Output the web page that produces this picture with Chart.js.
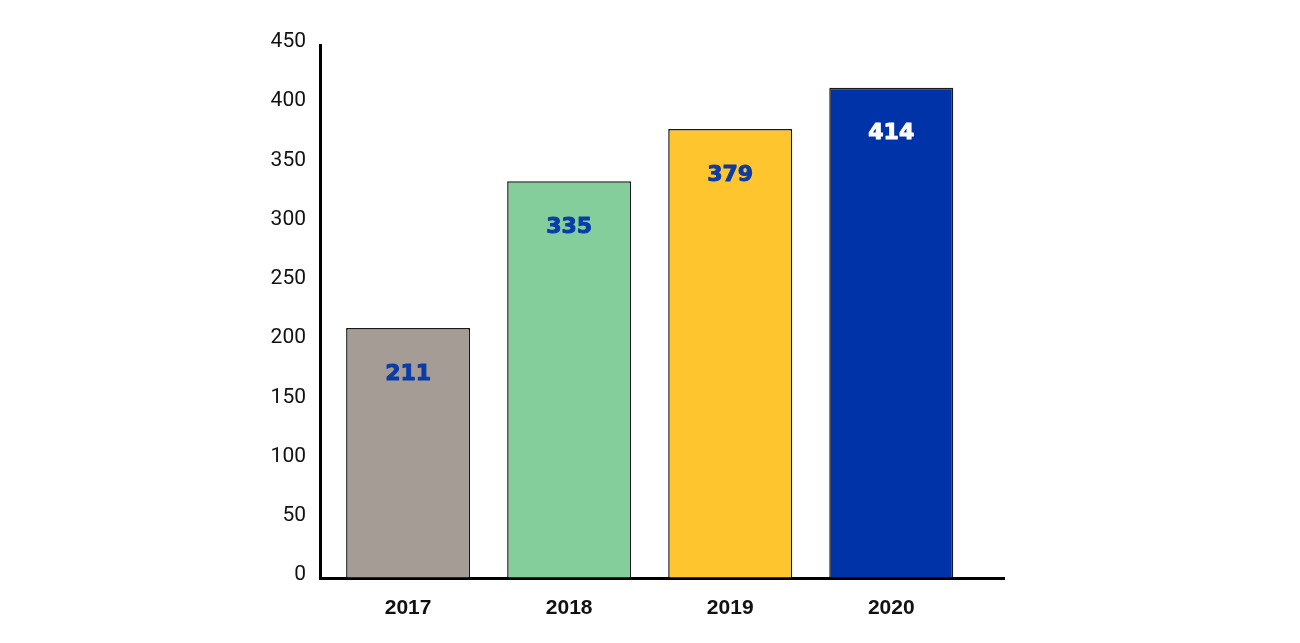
<!DOCTYPE html>
<html>
<head>
<meta charset="utf-8">
<script src="https://cdn.jsdelivr.net/npm/chart.js@4"></script>
<style>
html,body{margin:0;padding:0;background:#fff;}
#wrap{width:1300px;height:643px;position:relative;}
</style>
</head>
<body>
<div id="wrap"><canvas id="c" width="1300" height="643"></canvas></div>
<script>
const categories = ['2017', '2018', '2019', '2020'];
const values = [211, 335, 379, 414];
const barColors = ['#a59c96', '#84ce9c', '#fec52e', '#0033a8'];
const labelColors = ['#0a3ca8', '#0a3ca8', '#0a3ca8', '#ffffff'];
const yTicks = [0, 50, 100, 150, 200, 250, 300, 350, 400, 450];

const valueLabels = {
  id: 'valueLabels',
  afterDatasetsDraw(chart) {
    const ctx = chart.ctx;
    const meta = chart.getDatasetMeta(0);
    ctx.save();
    ctx.font = 'bold 22px "DejaVu Sans", "Liberation Sans", sans-serif';
    ctx.textAlign = 'center';
    ctx.textBaseline = 'middle';
    ctx.lineWidth = 1;
    ctx.lineJoin = 'round';
    meta.data.forEach((bar, i) => {
      ctx.fillStyle = labelColors[i];
      ctx.strokeStyle = labelColors[i];
      ctx.fillText(String(values[i]), bar.x, bar.y + 46);
      ctx.strokeText(String(values[i]), bar.x, bar.y + 46);
    });
    ctx.restore();
  }
};

new Chart(document.getElementById('c'), {
  type: 'bar',
  data: {
    datasets: [{
      data: values.map((v, i) => ({x: i, y: v})),
      backgroundColor: barColors,
      borderColor: '#1a1a1a',
      borderWidth: {top: 1.5, left: 1.5, right: 1.5, bottom: 0},
      borderSkipped: 'bottom',
      categoryPercentage: 1,
      barPercentage: 0.77
    }]
  },
  options: {
    responsive: false,
    animation: false,
    devicePixelRatio: 1,
    layout: {padding: {left: 0, right: 296, top: 45, bottom: 0}},
    plugins: {legend: {display: false}, tooltip: {enabled: false}},
    scales: {
      x: {
        type: 'linear',
        offset: false,
        min: -0.547,
        max: 3.7,
        afterBuildTicks(scale) { scale.ticks = categories.map((c, i) => ({value: i})); },
        afterFit(scale) { scale.height = 65; },
        ticks: {
          callback: (v) => categories[v],
          color: '#111',
          font: {family: '"Liberation Sans", Arial, sans-serif', size: 21, weight: 'bold'},
          padding: 18,
          maxRotation: 0,
          autoSkip: false
        },
        grid: {color: 'rgba(0,0,0,0)', drawTicks: false, offset: false},
        border: {display: true, color: '#000', width: 3}
      },
      y: {
        min: 0,
        max: 450,
        afterBuildTicks(scale) { scale.ticks = yTicks.map(v => ({value: v})); },
        afterFit(scale) { scale.width = 320; },
        ticks: {
          color: '#111',
          font: {family: 'Roboto, "Liberation Sans", sans-serif', size: 21},
          padding: 14,
          labelOffset: -3
        },
        grid: {color: 'rgba(0,0,0,0)', drawTicks: false},
        border: {display: true, color: '#000', width: 3}
      }
    }
  },
  plugins: [valueLabels]
});
</script>
</body>
</html>
